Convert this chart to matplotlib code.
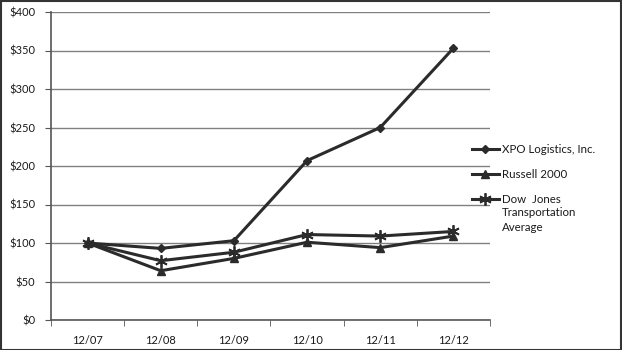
import matplotlib
matplotlib.use("Agg")
import matplotlib.pyplot as plt
from matplotlib.patches import Rectangle

categories = ["12/07", "12/08", "12/09", "12/10", "12/11", "12/12"]
xpo = [100, 93, 103, 207, 250, 353]
russell = [100, 64, 80, 101, 94, 109]
dowjones = [100, 77, 88, 111, 109, 115]
yticks = [0, 50, 100, 150, 200, 250, 300, 350, 400]
ytick_labels = ["$" + str(v) for v in yticks]
series_labels = ["XPO Logistics, Inc.", "Russell 2000", "Dow  Jones"]
dj_extra = "Transportation\nAverage"

plt.rcParams['font.family'] = ['Lato', 'DejaVu Sans']
col = '#2b2b2b'
tcol = '#1a1a1a'

fig = plt.figure(figsize=(6.22, 3.5), dpi=100)
ax = fig.add_axes([51/622, 30/350, (490-51)/622, (320-12)/350])

x = list(range(len(categories)))
ax.plot(x, xpo, color=col, lw=2.2, marker='D', ms=4.5, label=series_labels[0])
ax.plot(x, russell, color=col, lw=2.2, marker='^', ms=6, label=series_labels[1])
ax.plot(x, dowjones, color=col, lw=2.2, marker=(6, 2, 0), ms=9, mew=1.3, label=series_labels[2])

ax.set_xlim(-0.5, len(categories) - 0.5)
ax.set_ylim(0, 400)
ax.set_yticks(yticks)
ax.set_yticklabels(ytick_labels, fontsize=8, color=tcol)
ax.set_xticks(x)
ax.set_xticklabels(categories, fontsize=8, color=tcol)
ax.set_xticks([i - 0.5 for i in range(len(categories) + 1)], minor=True)
ax.tick_params(axis='x', which='major', length=0, pad=11)
ax.tick_params(axis='x', which='minor', length=4, color='#555555', direction='out')
ax.tick_params(axis='y', length=4.3, color='#555555', pad=7)
ax.yaxis.grid(True, color='#808080', lw=1)
ax.set_axisbelow(True)
for s in ['top', 'right']:
    ax.spines[s].set_visible(False)
for s in ['left', 'bottom']:
    ax.spines[s].set_color('#555555')
    ax.spines[s].set_linewidth(1.2)

leg = fig.legend(loc='upper left', bbox_to_anchor=(467/622, 1 - 139/350), frameon=False,
                 fontsize=8.3, handlelength=2.4, handletextpad=0.2, labelspacing=1.25,
                 borderaxespad=0, borderpad=0.4)
for t in leg.get_texts():
    t.set_color(tcol)

fig.canvas.draw()
r = fig.canvas.get_renderer()
bb = leg.get_texts()[2].get_window_extent(r)
fig.text(bb.x0 / fig.bbox.width, (bb.y0 - 2) / fig.bbox.height, dj_extra, fontsize=8.3,
         color=tcol, va='top', ha='left', linespacing=1.45)

fig.patches.append(Rectangle((0.5/622, 0.5/350), 1 - 1.5/622, 1 - 1.5/350, transform=fig.transFigure,
                             fill=False, edgecolor='#333333', lw=1.5))
fig.savefig("out.png", dpi=100)
